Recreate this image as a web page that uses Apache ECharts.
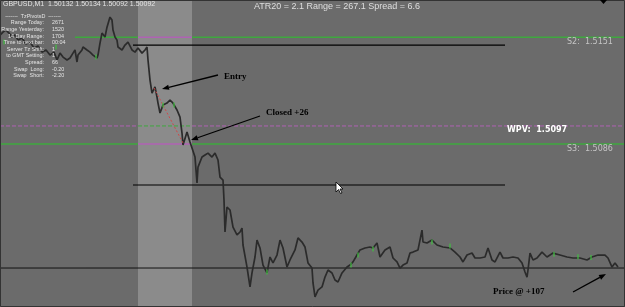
<!DOCTYPE html>
<html lang="en">
<head>
<meta charset="UTF-8">
<title>GBPUSD,M1</title>
<script src="https://cdn.jsdelivr.net/npm/echarts@6/dist/echarts.min.js"></script>
<style>
    html, body { margin: 0; padding: 0; background: #6b6b6b; }
    #main { width: 625px; height: 307px; }
</style>
</head>
<body>
<div id="main"></div>
<script>
    // minute index (one bar per column) and price
    var bars = [0, 3, 6, 9, 12, 15, 18, 22, 26, 30, 34, 38, 42, 46, 50, 54, 57, 60, 63, 67,
        70, 73, 75, 77, 78, 82, 83, 87, 90, 93, 97, 98, 100, 102, 103, 105, 107, 110, 112, 113,
        115, 117, 118, 122, 125, 128, 132, 135, 138, 142, 145, 147, 148, 150, 152, 155, 157, 158, 160, 163,
        167, 170, 173, 177, 180, 182, 183, 187, 190, 192, 195, 197, 198, 202, 205, 208, 212, 215, 218, 220,
        223, 224, 225, 227, 230, 233, 237, 240, 242, 243, 247, 250, 252, 255, 257, 260, 263, 267, 270, 273,
        277, 280, 283, 287, 290, 295, 298, 302, 305, 308, 312, 313, 315, 318, 322, 325, 328, 332, 335, 338,
        342, 347, 350, 353, 357, 360, 365, 370, 373, 377, 380, 385, 390, 393, 397, 400, 403, 407, 410, 413,
        418, 422, 423, 427, 432, 437, 443, 450, 455, 460, 463, 467, 472, 475, 480, 485, 488, 492, 495, 500,
        503, 508, 513, 518, 522, 525, 527, 528, 530, 533, 537, 542, 547, 553, 560, 567, 573, 580, 587, 592,
        598, 605, 608, 612, 615, 617, 618];
    var prices = [1.51523, 1.51541, 1.51553, 1.51535, 1.51511, 1.51523, 1.51492, 1.51505, 1.51468, 1.51480,
        1.51444, 1.51456, 1.51419, 1.51432, 1.51401, 1.51419, 1.51371, 1.51413, 1.51389, 1.51371,
        1.51383, 1.51413, 1.51432, 1.51359, 1.51401, 1.51432, 1.51450, 1.51432, 1.51419, 1.51401,
        1.51383, 1.51401, 1.51474, 1.51535, 1.51523, 1.51511, 1.51571, 1.51632, 1.51614, 1.51553,
        1.51511, 1.51492, 1.51450, 1.51432, 1.51462, 1.51480, 1.51432, 1.51419, 1.51444, 1.51413,
        1.51432, 1.51450, 1.51371, 1.51249, 1.51170, 1.51207, 1.51146, 1.51109, 1.51049, 1.51097,
        1.51109, 1.51128, 1.51109, 1.51067, 1.51024, 1.50927, 1.50854, 1.50933, 1.50872, 1.50836,
        1.50781, 1.50623, 1.50720, 1.50781, 1.50793, 1.50805, 1.50781, 1.50805, 1.50763, 1.50659,
        1.50641, 1.50520, 1.50325, 1.50477, 1.50459, 1.50355, 1.50307, 1.50325, 1.50349, 1.50246,
        1.50112, 1.49991, 1.50076, 1.50173, 1.50276, 1.50228, 1.50124, 1.50076, 1.50173, 1.50137,
        1.50185, 1.50276, 1.50228, 1.50112, 1.50155, 1.50216, 1.50289, 1.50264, 1.50234, 1.50137,
        1.50106, 1.50015, 1.49930, 1.49972, 1.49991, 1.50051, 1.50094, 1.50076, 1.50033, 1.50021,
        1.50076, 1.50112, 1.50124, 1.50143, 1.50185, 1.50216, 1.50228, 1.50234, 1.50228, 1.50258,
        1.50173, 1.50216, 1.50234, 1.50167, 1.50143, 1.50106, 1.50124, 1.50137, 1.50197, 1.50203,
        1.50216, 1.50337, 1.50264, 1.50258, 1.50276, 1.50246, 1.50234, 1.50228, 1.50203, 1.50173,
        1.50143, 1.50185, 1.50197, 1.50167, 1.50167, 1.50173, 1.50228, 1.50155, 1.50143, 1.50203,
        1.50167, 1.50167, 1.50173, 1.50167, 1.50137, 1.50082, 1.50051, 1.50094, 1.50197, 1.50155,
        1.50167, 1.50203, 1.50173, 1.50197, 1.50185, 1.50173, 1.50167, 1.50167, 1.50155, 1.50173,
        1.50185, 1.50185, 1.50167, 1.50112, 1.50137, 1.50143, 1.50112];

    // green (bullish) ticks
    var bullBars = [4, 56, 96, 163, 174, 267, 351, 358, 373, 432, 450, 554, 578, 591];
    var bullPrices = [1.51480, 1.51450, 1.51389, 1.51097, 1.51097, 1.50082, 1.50124, 1.50185, 1.50221, 1.50264, 1.50240, 1.50190, 1.50175, 1.50170];

    // pivot levels
    var pivotNames = ['S2', 'WPV', 'S3'];
    var pivotValues = [1.5151, 1.5097, 1.5086];
    var pivotStart = [75, 0, 0];

    // session band (minutes)
    var sessionBand = [138, 192];

    // range box lines and current price line
    var boxLevels = [1.51462, 1.50611];
    var boxFrom = 133, boxTo = 505;
    var priceLevel = 1.50106;

    // trade: entry and exit
    var entryPoint = [154, 1.51201];
    var exitPoint = [183, 1.50866];

    var xMax = 625;
    var yMin = 1.49869, yMax = 1.51736;

    var GREEN = '#3ea83e', MAGENTA = '#b062b4';

    var chart = echarts.init(document.getElementById('main'));

    var series = [];

    // band behind everything
    series.push({
        type: 'line', data: [], z: 1, silent: true,
        markArea: {
            silent: true,
            itemStyle: { color: '#8b8b8b' },
            data: [[{ xAxis: sessionBand[0] }, { xAxis: sessionBand[1] }]]
        }
    });

    function seg(x0, x1, p, color, dashed, width) {
        series.push({
            type: 'line', z: 3, silent: true, symbol: 'none',
            data: [[x0, p], [x1, p]],
            lineStyle: { color: color, width: width || 1.5, type: dashed ? [4, 2] : 'solid' }
        });
    }

    pivotNames.forEach(function (name, i) {
        var outside = name === 'WPV' ? MAGENTA : GREEN;
        var inside = name === 'WPV' ? GREEN : MAGENTA;
        var dashed = name === 'WPV';
        var w = dashed ? 1 : 1.5;
        if (pivotStart[i] < sessionBand[0]) seg(pivotStart[i], sessionBand[0], pivotValues[i], outside, dashed, w);
        seg(sessionBand[0], sessionBand[1], pivotValues[i], inside, dashed, w);
        seg(sessionBand[1], xMax, pivotValues[i], outside, dashed, w);
    });

    boxLevels.forEach(function (p) { seg(boxFrom, boxTo, p, '#000', false, 1.2); });
    seg(0, xMax, priceLevel, '#111', false, 1);

    series.push({
        type: 'line', z: 5, symbol: 'none', silent: true,
        data: bars.map(function (b, i) { return [b, prices[i]]; }),
        lineStyle: { color: '#2b2b2b', width: 1.7 }
    });

    series.push({
        type: 'scatter', z: 6, silent: true,
        symbol: 'rect', symbolSize: [1.5, 5],
        itemStyle: { color: '#40c040' },
        data: bullBars.map(function (b, i) { return [b, bullPrices[i]]; })
    });

    series.push({
        type: 'line', z: 6, symbol: 'none', silent: true,
        data: [entryPoint, exitPoint],
        lineStyle: { color: '#d04848', width: 1, type: [2, 2] }
    });

    chart.setOption({
        animation: false,
        backgroundColor: '#6b6b6b',
        grid: { left: 0, right: 0, top: 0, bottom: 0 },
        xAxis: { type: 'value', min: 0, max: xMax, show: false },
        yAxis: { type: 'value', min: yMin, max: yMax, show: false, scale: true },
        series: series
    });

    function px(x, p) { return chart.convertToPixel({ xAxisIndex: 0, yAxisIndex: 0 }, [x, p]); }

    function arrow(x1, y1, x2, y2) {
        var a = Math.atan2(y2 - y1, x2 - x1), L = 7, W = 2.6;
        var bx = x2 - L * Math.cos(a), by = y2 - L * Math.sin(a);
        return [
            { type: 'line', shape: { x1: x1, y1: y1, x2: bx, y2: by }, style: { stroke: '#000', lineWidth: 1.3 }, z: 20 },
            { type: 'polygon', shape: { points: [[x2, y2], [bx + W * Math.sin(a), by - W * Math.cos(a)], [bx - W * Math.sin(a), by + W * Math.cos(a)]] }, style: { fill: '#000' }, z: 20 }
        ];
    }

    var small = 'Liberation Sans';
    var g = [];

    // frame
    g.push({ type: 'rect', shape: { x: 0.5, y: 0.5, width: 624, height: 306 }, style: { fill: null, stroke: '#333', lineWidth: 1 }, z: 30 });
    g.push({ type: 'polygon', shape: { points: [[600, 0], [607, 0], [603.5, 4]] }, style: { fill: '#000' }, z: 30 });

    g.push({ type: 'text', left: 3, top: 1, style: { text: 'GBPUSD,M1  1.50132 1.50134 1.50092 1.50092', fill: '#e4e4e4', font: '7px ' + small }, z: 20 });
    g.push({ type: 'text', x: 337, y: 2, style: { text: 'ATR20 = 2.1 Range = 267.1 Spread = 6.6', fill: '#dedede', font: '9px ' + small, align: 'center' }, z: 20 });

    var panelLabels = ['Range Today:', 'Range Yesterday:', '14 Day Range:', 'Time to next bar:', 'Server Tz Shift:', 'to GMT Setting:', 'Spread:', 'Swap  Long:', 'Swap  Short:'];
    var panelValues = ['2671', '1520', '1704', '00:04', '1', '1', '66', '-0.20', '-2.20'];
    var pfont = '5.4px ' + small;
    g.push({ type: 'text', x: 33, y: 14, style: { text: '-------  TzPivotsD  -------', fill: '#e4e4e4', font: pfont, align: 'center' }, z: 20 });
    panelLabels.forEach(function (t, i) {
        var y = 20.5 + i * 6.6;
        g.push({ type: 'text', x: 44, y: y, style: { text: t, fill: '#e4e4e4', font: pfont, align: 'right' }, z: 20 });
        g.push({ type: 'text', x: 52, y: y, style: { text: panelValues[i], fill: '#e4e4e4', font: pfont }, z: 20 });
    });

    // pivot labels
    pivotNames.forEach(function (name, i) {
        var p = px(0, pivotValues[i]);
        if (name === 'WPV') {
            g.push({ type: 'text', x: 507, y: p[1] + 0, style: { text: 'WPV:  ' + pivotValues[i].toFixed(4), fill: '#ffffff', font: 'bold 8px "DejaVu Sans"' }, z: 20 });
        } else {
            g.push({ type: 'text', x: 567, y: p[1] + 1, style: { text: name + ':  ' + pivotValues[i].toFixed(4), fill: '#c4c4c4', font: '8px "DejaVu Sans"' }, z: 20 });
        }
    });

    // annotations
    var serif = 'bold 9px "Liberation Serif"';
    var e = px(entryPoint[0], entryPoint[1]);
    g = g.concat(arrow(218, 75, e[0] + 8, e[1] + 1));
    g.push({ type: 'text', x: 224, y: 72, style: { text: 'Entry', fill: '#000', font: serif }, z: 20 });

    var c = px(exitPoint[0], exitPoint[1]);
    g = g.concat(arrow(260, 116, c[0] + 8, c[1] - 3));
    g.push({ type: 'text', x: 266, y: 108, style: { text: 'Closed +26', fill: '#000', font: serif }, z: 20 });

    var last = px(bars[bars.length - 1], prices[prices.length - 1]);
    g = g.concat(arrow(573, 292, last[0] - 12, last[1] + 7));
    g.push({ type: 'text', x: 493, y: 287, style: { text: 'Price @ +107', fill: '#000', font: serif }, z: 20 });

    // mouse cursor
    g.push({ type: 'polygon', shape: { points: [[336, 182], [336, 192], [338.5, 189.5], [340.5, 193.5], [342, 193], [340, 189], [343, 189]] }, style: { fill: '#fff', stroke: '#000', lineWidth: 0.8 }, z: 25 });

    chart.setOption({ graphic: g });
</script>
</body>
</html>
